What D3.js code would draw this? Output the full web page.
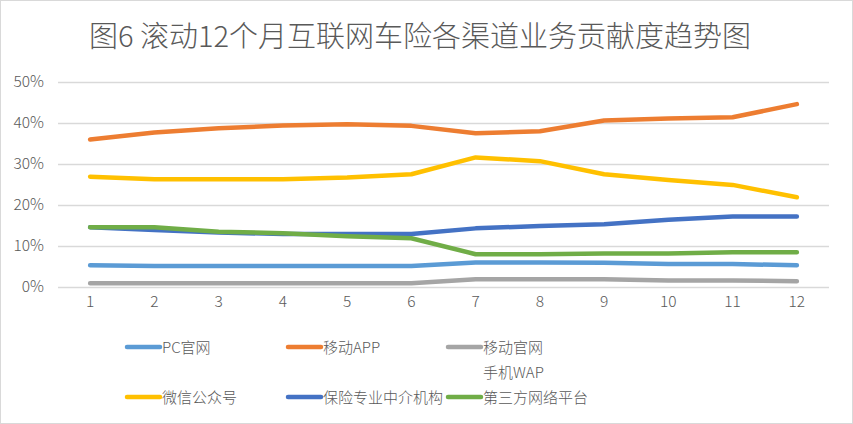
<!DOCTYPE html>
<html><head><meta charset="utf-8">
<script src="https://cdn.jsdelivr.net/npm/d3@7"></script>
<style>body{margin:0;background:#fff}svg{display:block}text{font-family:"Noto Sans CJK SC","Noto Sans",sans-serif;fill:#595959;font-weight:300}</style>
</head><body>
<svg id="c" width="853" height="424"></svg>
<script>
const months = ["1","2","3","4","5","6","7","8","9","10","11","12"];
const yTicks = [0, 10, 20, 30, 40, 50];
const pcSite   = [5.3, 5.1, 5.1, 5.1, 5.1, 5.1, 6.0, 6.0, 5.9, 5.6, 5.6, 5.3];
const mobileApp = [36.0, 37.7, 38.7, 39.4, 39.7, 39.3, 37.5, 38.0, 40.6, 41.1, 41.4, 44.6];
const mobileWap = [0.9, 0.9, 0.9, 0.9, 0.9, 0.9, 1.9, 1.9, 1.9, 1.6, 1.6, 1.4];
const wechat   = [26.9, 26.3, 26.3, 26.3, 26.7, 27.5, 31.6, 30.7, 27.5, 26.1, 24.9, 21.9];
const agency   = [14.6, 13.9, 13.3, 12.9, 12.9, 12.9, 14.3, 14.9, 15.3, 16.4, 17.2, 17.2];
const thirdParty = [14.6, 14.6, 13.5, 13.1, 12.4, 11.9, 8.0, 8.0, 8.2, 8.2, 8.5, 8.5];
const seriesNames = ["PC官网", "移动APP", "移动官网\n手机WAP", "微信公众号", "保险专业中介机构", "第三方网络平台"];
const seriesColors = ["#5B9BD5", "#ED7D31", "#A5A5A5", "#FFC000", "#4472C4", "#70AD47"];
const seriesData = [pcSite, mobileApp, mobileWap, wechat, agency, thirdParty];
const title = "图6 滚动12个月互联网车险各渠道业务贡献度趋势图";

const svg = d3.select("#c");
svg.append("rect").attr("x",0.5).attr("y",0.5).attr("width",852).attr("height",423)
  .attr("fill","#fff").attr("stroke","#d9d9d9");

svg.append("text").attr("x",420).attr("y",47).attr("text-anchor","middle")
  .style("font-size","29px").text(title);

const x = d3.scaleBand().domain(months).range([58, 829]);
const y = d3.scaleLinear().domain([0, 50]).range([287, 82]);

const yAxis = svg.append("g").attr("transform","translate(58,0)")
  .call(d3.axisLeft(y).tickValues(yTicks).tickSize(-771).tickFormat(d => d + "%").tickPadding(14));
yAxis.select(".domain").remove();
yAxis.selectAll("line").attr("stroke","#d9d9d9").attr("stroke-width",1.5);
yAxis.selectAll("text").style("font-size","15.5px").attr("fill","#595959");

const xAxis = svg.append("g").attr("transform","translate(0,287)")
  .call(d3.axisBottom(x).tickSize(0).tickPadding(9));
xAxis.select(".domain").remove();
xAxis.selectAll("text").style("font-size","15.5px").attr("fill","#595959");

const line = d3.line().x((d,i) => x(months[i]) + x.bandwidth()/2).y(d => y(d));
seriesData.forEach((s, k) => {
  svg.append("path").datum(s).attr("d", line).attr("fill","none")
    .attr("stroke", seriesColors[k]).attr("stroke-width",4.5)
    .attr("stroke-linecap","round").attr("stroke-linejoin","round");
});

const legX = [127, 288, 448];
const legY = [347, 397];
seriesNames.forEach((n, k) => {
  const cx = legX[k % 3], cy = legY[Math.floor(k / 3)];
  svg.append("line").attr("x1",cx).attr("x2",cx+33).attr("y1",cy).attr("y2",cy)
    .attr("stroke",seriesColors[k]).attr("stroke-width",4.5).attr("stroke-linecap","round");
  const t = svg.append("text").attr("x",cx+35).attr("y",cy+5.5).style("font-size","15px");
  n.split("\n").forEach((p, j) => {
    t.append("tspan").attr("x",cx+35).attr("dy", j === 0 ? 0 : 25).text(p);
  });
});
</script>
</body></html>
